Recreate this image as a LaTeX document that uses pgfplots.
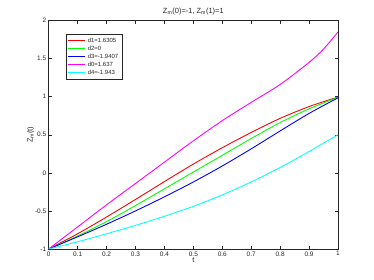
\documentclass[border=0pt]{standalone}
\usepackage{pgfplots}
\pgfplotsset{compat=1.18}
\usepackage{fontspec}
\setmainfont{Liberation Sans}
\definecolor{axgray}{rgb}{0.15,0.15,0.15}
\definecolor{pred}{rgb}{1,0,0}
\definecolor{pgreen}{rgb}{0,1,0}
\definecolor{pblue}{rgb}{0,0,1}
\definecolor{pmag}{rgb}{1,0,1}
\definecolor{pcyan}{rgb}{0,1,1}
\begin{document}
\fontsize{7}{8}\selectfont
\begin{tikzpicture}
\begin{axis}[
  at={(0,0)}, anchor=south west,
  scale only axis, width=289.3bp, height=228.5bp,
  xmin=0, xmax=1, ymin=-1, ymax=2,
  xtick={0,0.1,...,1.0}, ytick={-1,-0.5,0,0.5,1,1.5,2},
  xticklabels={0,0.1,0.2,0.3,0.4,0.5,0.6,0.7,0.8,0.9,1},
  yticklabels={-1,-0.5,0,0.5,1,1.5,2},
  tick align=inside, tick pos=both,
  major tick length=3bp,
  axis line style={axgray, line width=0.5pt},
  every tick/.style={axgray, line width=0.5pt},
  tick label style={font=\fontsize{6.5}{7}\selectfont, text=axgray},
  /pgf/number format/assume math mode=true,
  xlabel={t}, ylabel={Z\textsubscript{m}(t)},
  label style={font=\fontsize{7.5}{8}\selectfont, text=axgray},
  xlabel style={yshift=3bp},
  ylabel style={yshift=-4bp},
  title={Z\textsubscript{m}(0)=-1, Z\textsubscript{m}(1)=1},
  title style={font=\fontsize{7.5}{8}\selectfont, text=axgray, yshift=-3bp},
  legend style={at={(0.0588,0.941)}, anchor=north west, draw=axgray, line width=0.5pt,
    font=\fontsize{6}{7}\selectfont, text=axgray, row sep=-1.5pt, inner sep=2pt},
  legend cell align=left,
  legend image post style={line width=0.9pt},
  every axis plot/.append style={line width=0.9pt, smooth, tension=0.5},
]
\addplot[pred] coordinates {(0,-1) (0.1,-0.80) (0.2,-0.58) (0.3,-0.35) (0.4,-0.115) (0.5,0.115) (0.6,0.33) (0.7,0.53) (0.8,0.715) (0.9,0.87) (1,0.995)};
\addlegendentry{d1=1.6305}
\addplot[pgreen] coordinates {(0,-1) (0.1,-0.83) (0.2,-0.64) (0.3,-0.43) (0.4,-0.21) (0.5,0.01) (0.6,0.23) (0.7,0.45) (0.8,0.66) (0.9,0.84) (1,0.993)};
\addlegendentry{d2=0}
\addplot[pblue] coordinates {(0,-1) (0.1,-0.84) (0.2,-0.675) (0.3,-0.50) (0.4,-0.315) (0.5,-0.12) (0.6,0.09) (0.7,0.315) (0.8,0.55) (0.9,0.78) (1,0.985)};
\addlegendentry{d3=-1.9407}
\addplot[pmag] coordinates {(0,-1) (0.1,-0.71) (0.2,-0.42) (0.3,-0.14) (0.4,0.14) (0.5,0.42) (0.6,0.685) (0.7,0.925) (0.8,1.16) (0.9,1.45) (0.95,1.625) (1,1.85)};
\addlegendentry{d0=1.637}
\addplot[pcyan] coordinates {(0,-1) (0.1,-0.905) (0.2,-0.80) (0.3,-0.69) (0.4,-0.57) (0.5,-0.44) (0.6,-0.29) (0.7,-0.12) (0.8,0.07) (0.9,0.28) (1,0.50)};
\addlegendentry{d4=-1.943}
\end{axis}
\path (-48.7bp,-31bp) rectangle (325.3bp,249bp);
\end{tikzpicture}
\end{document}
